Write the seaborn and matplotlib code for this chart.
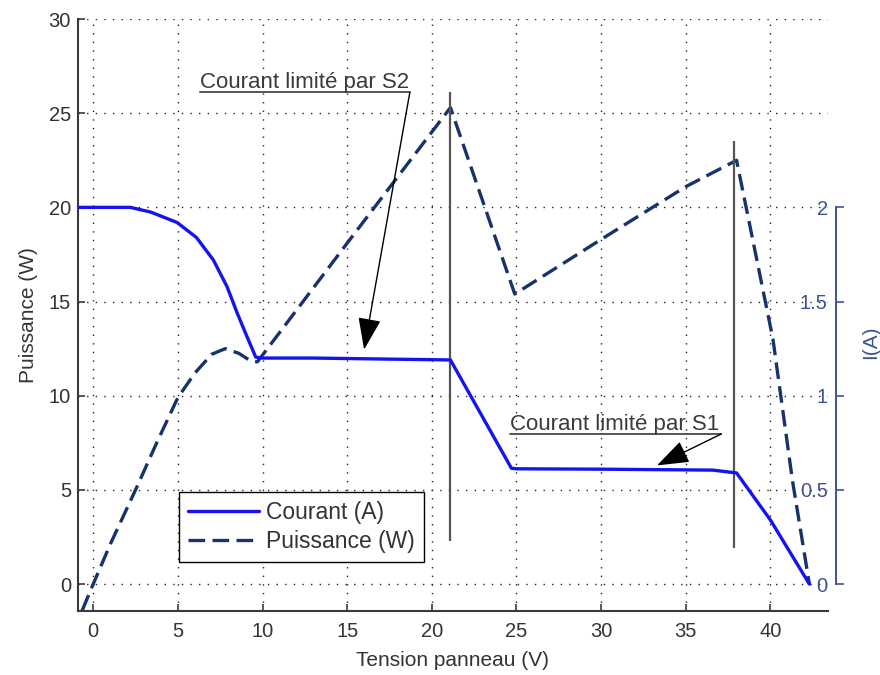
import matplotlib
matplotlib.use("Agg")
import matplotlib.pyplot as plt
import seaborn as sns

# Courant (A) en fonction de la tension panneau (V)
v_courant = [-0.9, 0, 1, 2.2, 3.4, 4.95, 6.1, 7.1, 7.9, 8.5, 9.1, 9.6, 10,
             13, 17, 21.1, 24.7, 25, 30, 36.6, 38.0, 40.0, 42.3]
courant = [2.0, 2.0, 2.0, 2.0, 1.975, 1.92, 1.84, 1.72, 1.58, 1.44, 1.31,
           1.205, 1.2, 1.2, 1.195, 1.19, 0.615, 0.612, 0.61, 0.605, 0.59,
           0.34, 0.0]

# Puissance (W) en fonction de la tension panneau (V)
v_puissance = [-0.65, 0, 1, 2.5, 3.8, 5, 6, 7, 7.8, 8.6, 9.3, 9.7, 15, 21.1,
               24.9, 30, 35, 38.0, 40.15, 41.3, 42.3]
puissance = [-1.4, 0, 2.1, 5.0, 7.6, 9.9, 11.2, 12.2, 12.5, 12.25, 11.85,
             11.8, 18.1, 25.3, 15.4, 18.3, 21.1, 22.5, 13.0, 5.5, 0.0]

# repères verticaux (tension, bas, haut en W)
v_reperes = [21.05, 37.85]
reperes_bas = [2.3, 1.9]
reperes_haut = [26.1, 23.5]

x_ticks = [0, 5, 10, 15, 20, 25, 30, 35, 40]
p_ticks = [0, 5, 10, 15, 20, 25, 30]
i_ticks = [0, 0.5, 1, 1.5, 2]
i_labels = ["0", "0.5", "1", "1.5", "2"]

bleu = "#1414ee"
marine = "#17336b"
ardoise = "#3d5494"
gris = "#333333"

sns.set_theme(style="white")
plt.rcParams["font.family"] = ["Liberation Sans", "DejaVu Sans"]

fig = plt.figure(figsize=(8.8, 6.75), dpi=100)
ax = fig.add_axes([0.0886, 0.0948, 0.8523, 0.877])
ax2 = ax.twinx()

sns.lineplot(x=v_puissance, y=puissance, ax=ax, color=marine, lw=2.4,
             dashes=False, linestyle=(0, (5, 2.2)), label="Puissance (W)",
             legend=False, sort=False)
sns.lineplot(x=v_courant, y=courant, ax=ax2, color=bleu, lw=2.4,
             label="Courant (A)", legend=False, sort=False)

ax.vlines(v_reperes, reperes_bas, reperes_haut, color="#555555", lw=1.6, zorder=5)

ax.set_xlim(-0.9, 43.4)
ax.set_ylim(-1.43, 30)
ax2.set_ylim(-0.143, 3.0)

ax.set_xticks(x_ticks)
ax.set_yticks(p_ticks)
ax.grid(True, color="#222222", lw=1.0, linestyle=(0, (1, 5.2)))
for s in ["top", "right"]:
    ax.spines[s].set_visible(False)
for s in ["left", "bottom"]:
    ax.spines[s].set_color("#3a3a3a")
    ax.spines[s].set_linewidth(1.5)
ax.tick_params(direction="in", length=5, width=1.2, color="#3a3a3a",
               labelcolor=gris, labelsize=14.5)
ax.tick_params(axis="x", pad=8, bottom=True)
ax.tick_params(axis="y", pad=5, left=True)
ax.set_xlabel("Tension panneau (V)", fontsize=15, color=gris, labelpad=7)
ax.set_ylabel("Puissance (W)", fontsize=15, color=gris, labelpad=8)

# axe du courant à droite
for s in ["top", "right", "bottom"]:
    ax2.spines[s].set_visible(False)
ax2.spines["left"].set_visible(True)
ax2.spines["left"].set_position(("axes", 1.0107))
ax2.spines["left"].set_bounds(0, 2)
ax2.spines["left"].set_color(ardoise)
ax2.spines["left"].set_linewidth(1.4)
ax2.yaxis.set_ticks_position("left")
ax2.set_yticks(i_ticks, i_labels)
ax2.tick_params(axis="y", direction="in", length=6, width=1.2, color=ardoise,
                labelcolor=ardoise, labelsize=14.5, pad=6)
ax2.yaxis.set_label_position("right")
ax2.set_ylabel("I(A)", fontsize=15, color=ardoise)
ax2.yaxis.set_label_coords(1.044, 0.454)
ax2.grid(False)

# annotations
txt_kw = dict(fontsize=16, color="#3b3b3b")
fl_kw = dict(arrowstyle="-|>,head_length=1.0,head_width=0.36", color="black",
             lw=1, mutation_scale=20, shrinkA=0, shrinkB=0)
ax.text(6.3, 26.34, "Courant limité par S2", **txt_kw)
ax.plot([6.3, 18.7], [26.1, 26.1], color="#555555", lw=1.4)
ax.annotate("", xy=(16.0, 12.45), xytext=(18.7, 26.1), arrowprops=fl_kw)
ax.text(24.6, 8.18, "Courant limité par S1", **txt_kw)
ax.plot([24.6, 37.1], [7.97, 7.97], color="#555555", lw=1.4)
ax.annotate("", xy=(33.3, 6.3), xytext=(37.1, 7.97), arrowprops=fl_kw)

h1, l1 = ax2.get_legend_handles_labels()
h2, l2 = ax.get_legend_handles_labels()
leg = ax2.legend(h1 + h2, l1 + l2, loc="lower left", bbox_to_anchor=(0.135, 0.083),
                 borderaxespad=0, fontsize=16.5, handlelength=3.1, handletextpad=0.3,
                 labelspacing=0.25, borderpad=0.4, fancybox=False, framealpha=1)
leg.get_frame().set_edgecolor("black")
leg.get_frame().set_linewidth(1.0)
for t in leg.get_texts():
    t.set_color(gris)

fig.savefig("out.png", dpi=100)
